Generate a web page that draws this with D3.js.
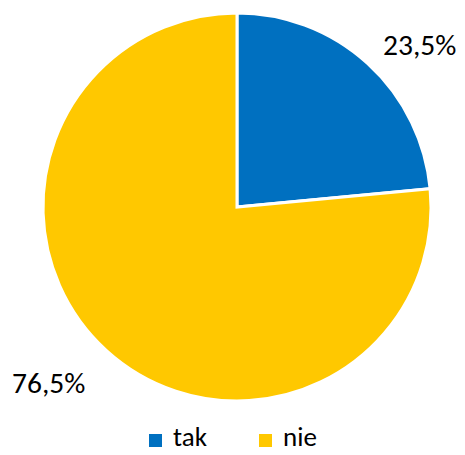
<!DOCTYPE html>
<html><head><meta charset="utf-8">
<script src="https://cdn.jsdelivr.net/npm/d3@7"></script>
<style>body{margin:0;background:#fff}svg{display:block}text{font-family:Carlito,Lato,"Open Sans",sans-serif;fill:#000}</style>
</head><body>
<svg id="c" width="465" height="455"></svg>
<script>
const categories = ["tak", "nie"];
const values = [23.5, 76.5];
const labels = ["23,5%", "76,5%"];
const colors = ["#0070C0", "#FFC800"];

const svg = d3.select("#c");
const cx = 237, cy = 207, R = 194;
const pie = d3.pie().sort(null).value(d => d)(values);
const arc = d3.arc().innerRadius(0).outerRadius(R);
const g = svg.append("g").attr("transform", `translate(${cx},${cy})`);
g.selectAll("path").data(pie).join("path")
  .attr("d", arc).attr("fill", (d, i) => colors[i])
  .attr("stroke", "#fff").attr("stroke-width", 3).attr("stroke-linejoin", "miter");

// data labels
const labelPos = [{x: 383, y: 55}, {x: 12, y: 393}];
svg.selectAll("text.lbl").data(labels).join("text").attr("class", "lbl")
  .attr("x", (d, i) => labelPos[i].x).attr("y", (d, i) => labelPos[i].y)
  .attr("font-size", 29.5).text(d => d);

// legend
const leg = [{sx: 149, tx: 173}, {sx: 259, tx: 283}];
const lg = svg.selectAll("g.leg").data(categories).join("g").attr("class", "leg");
lg.append("rect").attr("x", (d, i) => leg[i].sx).attr("y", 434).attr("width", 13).attr("height", 13)
  .attr("fill", (d, i) => colors[i]);
lg.append("text").attr("x", (d, i) => leg[i].tx).attr("y", 446).attr("font-size", 27).text(d => d);
</script>
</body></html>
